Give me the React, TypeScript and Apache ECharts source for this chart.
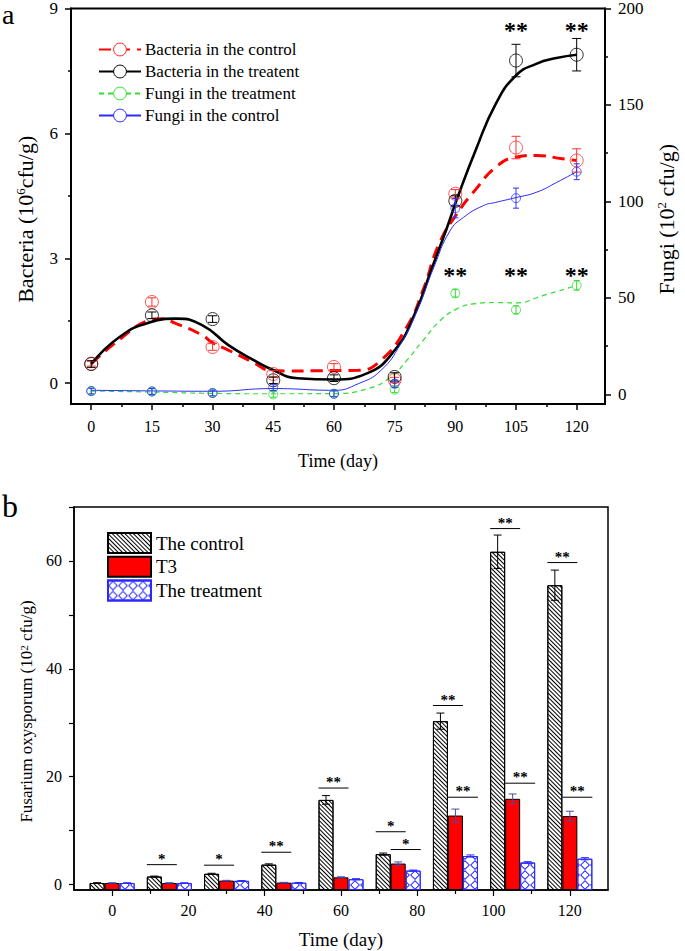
import React, { useEffect, useRef } from "react";
import * as echarts from "echarts";

const FONT = "Liberation Serif";

// ---------------- Panel a ----------------
const daysA = [0, 15, 30, 45, 60, 75, 90, 105, 120];
const bactControl = [0.47, 1.95, 0.87, 0.22, 0.39, 0.08, 4.55, 5.66, 5.35];
const bactControlErr = [0.06, 0.1, 0.08, 0.08, 0.08, 0.06, 0.1, 0.27, 0.28];
const bactTreat = [0.46, 1.63, 1.54, 0.07, 0.12, 0.15, 4.38, 7.75, 7.89];
const bactTreatErr = [0.08, 0.08, 0.08, 0.08, 0.08, 0.1, 0.12, 0.39, 0.39];
const fungiTreat = [1.7, 1.5, 0.7, 0, 0.3, 2.4, 52.4, 43.8, 56.5];
const fungiTreatErr = [1.5, 1.5, 1.5, 1.5, 1.5, 1.5, 2, 2, 2.5];
const fungiControl = [1.7, 1.5, 0.7, 3.5, 0.3, 5.5, 96.5, 101.7, 115.4];
const fungiControlErr = [1.5, 1.5, 1.5, 1.5, 1.5, 2, 5, 5.2, 4.1];

// fitted curves as [day, value]
const curveBactControl = [
  [0, 0.47], [7, 1.05], [14, 1.5], [17, 1.55], [21, 1.43], [27.5, 1.15], [30, 0.97],
  [34, 0.79], [40.6, 0.47], [44, 0.31], [49, 0.29], [56, 0.3], [66, 0.31], [71.6, 0.55],
  [78, 1.35], [82, 2.23], [86, 3.35], [90.4, 4.07], [95, 4.65], [100, 5.19], [105, 5.43],
  [110, 5.47], [116.5, 5.39], [120, 5.35],
];
const curveBactTreat = [
  [0, 0.46], [7, 1.11], [14.4, 1.46], [21, 1.55], [27.5, 1.39], [34, 0.91], [40.6, 0.53],
  [44, 0.36], [51, 0.12], [60, 0.09], [68, 0.23], [75, 0.79], [80, 1.67], [84, 2.71],
  [88, 3.75], [90.4, 4.42], [95, 5.59], [100, 6.71], [105, 7.39], [110, 7.67], [115, 7.81],
  [120, 7.89],
];
const curveFungiTreat = [
  [0, 1.7], [15, 1.2], [30, 0.5], [45, 0.3], [60, 0.4], [68.3, 2.9], [74, 8.9], [78, 17.6],
  [82, 27.9], [86.3, 38.3], [90.4, 44.3], [94.5, 46.9], [100, 47.6], [105, 47.4],
  [111.6, 51.2], [120, 56.4],
];
const curveFungiControl = [
  [0, 2.1], [15, 1.8], [30, 1.6], [45, 3.0], [60, 2.1], [66, 5.5], [71.6, 12.4], [76.5, 26.2],
  [80.6, 43.5], [84.7, 65.9], [88.7, 84.8], [92, 91.7], [96.9, 97.8], [100, 99.5], [105, 102],
  [110, 104.7], [115, 109.8], [120, 115.4],
];

const sigBact = [[105, 8.6], [120, 8.6]];
const sigFungi = [[90, 64.5], [105, 64.5], [120, 64.5]];

const xTicksA = [0, 15, 30, 45, 60, 75, 90, 105, 120];
const xMinorA = [7.5, 22.5, 37.5, 52.5, 67.5, 82.5, 97.5, 112.5];
const yTicksLeftA = [0, 3, 6, 9];
const yMinorLeftA = [1.5, 4.5, 7.5];
const yTicksRightA = [0, 50, 100, 150, 200];
const yMinorRightA = [25, 75, 125, 175];

// ---------------- Panel b ----------------
const daysB = [0, 15, 30, 45, 60, 75, 90, 105, 120];
const fusControl = [0.3, 1.5, 2.0, 3.7, 15.7, 5.65, 30.3, 61.7, 55.5];
const fusControlErr = [0.05, 0.08, 0.1, 0.15, 0.8, 0.2, 1.5, 3.1, 2.8];
const fusT3 = [0.3, 0.3, 0.74, 0.37, 1.35, 3.9, 12.8, 15.9, 12.7];
const fusT3Err = [0.03, 0.03, 0.05, 0.05, 0.1, 0.3, 1.2, 0.9, 0.9];
const fusTreat = [0.3, 0.3, 0.7, 0.35, 1.0, 2.6, 5.3, 4.1, 4.8];
const fusTreatErr = [0.03, 0.03, 0.05, 0.05, 0.1, 0.1, 0.2, 0.15, 0.2];

const sigDaysB = [15, 30, 45, 60, 75, 75, 90, 90, 105, 105, 120, 120];
const sigLevelsB = [3.7, 3.6, 6.0, 17.9, 9.8, 6.5, 33.2, 16.2, 66.0, 18.8, 59.7, 16.2];
const sigPairsB = ["ct", "ct", "ct", "ct", "ct", "tt", "ct", "tt", "ct", "tt", "ct", "tt"];
const sigLabelsB = ["*", "*", "**", "**", "*", "*", "**", "**", "**", "**", "**", "**"];

const xTicksB = [0, 20, 40, 60, 80, 100, 120];
const xMinorB = [10, 30, 50, 70, 90, 110];
const yTicksB = [0, 10, 20, 30, 40, 50, 60, 70];
const yLabelsB = [0, 20, 40, 60];

const BAR_W = 15;

function errSeries(
  days: number[], vals: number[], errs: number[], color: string,
  xAxisIndex: number, yAxisIndex: number, capHalf: number, offset = 0, lw = 1
) {
  return {
    type: "custom",
    xAxisIndex,
    yAxisIndex,
    z: 5,
    silent: true,
    itemStyle: { color },
    data: days.map((d, i) => [d, vals[i], errs[i]]),
    encode: { x: 0, y: 1 },
    renderItem: (_p: any, api: any) => {
      const x = api.value(0), v = api.value(1), e = api.value(2);
      const top = api.coord([x, v + e]);
      const bot = api.coord([x, v - e]);
      const cx = top[0] + offset;
      const st = { stroke: color, lineWidth: lw, fill: null };
      return {
        type: "group",
        children: [
          { type: "line", shape: { x1: cx, y1: top[1], x2: cx, y2: bot[1] }, style: st },
          { type: "line", shape: { x1: cx - capHalf, y1: top[1], x2: cx + capHalf, y2: top[1] }, style: st },
          { type: "line", shape: { x1: cx - capHalf, y1: bot[1], x2: cx + capHalf, y2: bot[1] }, style: st },
        ],
      };
    },
  };
}

function starSeries(points: number[][], xAxisIndex: number, yAxisIndex: number, size: number) {
  return {
    type: "custom",
    xAxisIndex,
    yAxisIndex,
    z: 6,
    silent: true,
    itemStyle: { color: "#000" },
    data: points,
    renderItem: (_p: any, api: any) => {
      const c = api.coord([api.value(0), api.value(1)]);
      return {
        type: "text",
        x: c[0],
        y: c[1] + 5,
        style: {
          text: "**", fontSize: size, fontWeight: "bold", fontFamily: FONT, fill: "#000",
          align: "center", verticalAlign: "middle",
        },
      };
    },
  };
}

function pointSeries(vals: number[], color: string, yAxisIndex: number, size: number) {
  return {
    type: "scatter",
    xAxisIndex: 0,
    yAxisIndex,
    z: 4,
    silent: true,
    symbol: "circle",
    symbolSize: size,
    data: daysA.map((d, i) => [d, vals[i]]),
    itemStyle: { color: "rgba(255,255,255,0)", borderColor: color, borderWidth: 1 },
  };
}

const axisLineStyle = { onZero: false, lineStyle: { color: "#000", width: 2 } };
const labelStyle = { color: "#000", fontFamily: FONT };
const nameRich = (big: number, small: number, shift: number) => ({
  ...labelStyle,
  padding: [0, shift, 0, 0],
  rich: {
    t: { fontSize: big, fontFamily: FONT, color: "#000" },
    s: { fontSize: small, fontFamily: FONT, color: "#000", verticalAlign: "top" },
  },
});

function buildOption() {
  const hatchDecal = {
    symbol: "rect",
    symbolSize: 1,
    color: "#000",
    dashArrayX: [1, 0],
    dashArrayY: [1, 2],
    rotation: Math.PI / 4,
  };
  const crossDecal = {
    symbol: "path://M5,0 L10,5 L5,10 L0,5 Z M5,1.4 L1.4,5 L5,8.6 L8.6,5 Z",
    symbolSize: 1,
    symbolKeepAspect: false,
    color: "#2a2aff",
    dashArrayX: [10, 0],
    dashArrayY: [10, 0],
  };

  return {
    animation: false,
    textStyle: { fontFamily: FONT },
    grid: [
      { left: 71, top: 8, width: 538, height: 396, show: true, borderColor: "#000", borderWidth: 2 },
      { left: 74, top: 507, width: 534, height: 383, show: true, borderColor: "#000", borderWidth: 1.5 },
    ],
    legend: [
      {
        data: [
          { name: "Bacteria in the control", itemStyle: { color: "#fff", borderColor: "#ff2020", borderWidth: 1 } },
          { name: "Bacteria in the treatent", itemStyle: { color: "#fff", borderColor: "#000", borderWidth: 1 } },
          { name: "Fungi in the treatment", itemStyle: { color: "#fff", borderColor: "#33dd33", borderWidth: 1 } },
          { name: "Fungi in the control", itemStyle: { color: "#fff", borderColor: "#2a2aff", borderWidth: 1 } },
        ],
        orient: "vertical",
        left: 93,
        top: 36,
        itemWidth: 42,
        itemHeight: 16,
        itemGap: 5,
        selectedMode: false,
        textStyle: { fontSize: 17, color: "#000", fontFamily: FONT, padding: [0, 0, 0, -1] },
      },
      {
        data: ["The control", "T3", "The treatment"],
        orient: "vertical",
        left: 102,
        top: 527,
        itemWidth: 43,
        itemHeight: 20,
        itemGap: 1.8,
        icon: "rect",
        selectedMode: false,
        textStyle: { fontSize: 19, color: "#000", fontFamily: FONT },
      },
    ],
    xAxis: [
      {
        type: "value", gridIndex: 0, min: -5, max: 127, position: "bottom",
        axisLine: axisLineStyle,
        axisTick: { customValues: xTicksA, length: 6, lineStyle: { color: "#000", width: 1.5 } },
        axisLabel: { customValues: xTicksA, fontSize: 16, margin: 14, ...labelStyle },
        splitLine: { show: false },
        name: "Time (day)", nameLocation: "middle", nameGap: 48,
        nameTextStyle: { fontSize: 18, ...labelStyle },
      },
      {
        type: "value", gridIndex: 0, min: -5, max: 127, position: "bottom",
        axisLine: { show: false, onZero: false },
        axisTick: { customValues: xMinorA, length: 3, lineStyle: { color: "#000", width: 1.5 } },
        axisLabel: { show: false },
        splitLine: { show: false },
      },
      {
        type: "value", gridIndex: 1, min: -10, max: 130, position: "bottom",
        axisLine: { onZero: false, lineStyle: { color: "#000", width: 1.5 } },
        axisTick: { customValues: xTicksB, length: 6, lineStyle: { color: "#000", width: 1.2 } },
        axisLabel: { customValues: xTicksB, fontSize: 16, margin: 12, ...labelStyle },
        splitLine: { show: false },
        name: "Time (day)", nameLocation: "middle", nameGap: 40,
        nameTextStyle: { fontSize: 19, ...labelStyle },
      },
      {
        type: "value", gridIndex: 1, min: -10, max: 130, position: "bottom",
        axisLine: { show: false, onZero: false },
        axisTick: { customValues: xMinorB, length: 4, lineStyle: { color: "#000", width: 1.2 } },
        axisLabel: { show: false },
        splitLine: { show: false },
      },
    ],
    yAxis: [
      {
        type: "value", gridIndex: 0, min: -0.5, max: 9, position: "left",
        axisLine: axisLineStyle,
        axisTick: { customValues: yTicksLeftA, length: 6, lineStyle: { color: "#000", width: 1.5 } },
        axisLabel: { customValues: yTicksLeftA, fontSize: 17, margin: 13, ...labelStyle },
        splitLine: { show: false },
        name: "{t|Bacteria (10}{s|6}{t|cfu/g)}", nameLocation: "middle", nameGap: 35,
        nameTextStyle: nameRich(22, 13, 26),
      },
      {
        type: "value", gridIndex: 0, min: -0.5, max: 9, position: "left",
        axisLine: { show: false, onZero: false },
        axisTick: { customValues: yMinorLeftA, length: 3, lineStyle: { color: "#000", width: 1.5 } },
        axisLabel: { show: false },
        splitLine: { show: false },
      },
      {
        type: "value", gridIndex: 0, min: -5, max: 200, position: "right",
        axisLine: axisLineStyle,
        axisTick: { customValues: yTicksRightA, length: 6, lineStyle: { color: "#000", width: 1.5 } },
        axisLabel: { customValues: yTicksRightA, fontSize: 17, margin: 13, ...labelStyle },
        splitLine: { show: false },
        name: "{t|Fungi (10}{s|2}{t| cfu/g)}", nameLocation: "middle", nameGap: 50,
        nameTextStyle: nameRich(22, 13, 26),
      },
      {
        type: "value", gridIndex: 0, min: -5, max: 200, position: "right",
        axisLine: { show: false, onZero: false },
        axisTick: { customValues: yMinorRightA, length: 3, lineStyle: { color: "#000", width: 1.5 } },
        axisLabel: { show: false },
        splitLine: { show: false },
      },
      {
        type: "value", gridIndex: 1, min: -1, max: 70, position: "left", startValue: -1,
        axisLine: { onZero: false, lineStyle: { color: "#000", width: 1.5 } },
        axisTick: { customValues: yTicksB, length: 5, lineStyle: { color: "#000", width: 1.2 } },
        axisLabel: { customValues: yLabelsB, fontSize: 16, margin: 12, ...labelStyle },
        splitLine: { show: false },
        name: "{t|Fusarium oxysporum (10}{s|2}{t| cfu/g)}", nameLocation: "middle", nameGap: 38,
        nameTextStyle: nameRich(17, 11, 26),
      },
    ],
    series: [
      // curves (legend entries)
      {
        name: "Bacteria in the control", type: "line", xAxisIndex: 0, yAxisIndex: 0, z: 3,
        data: curveBactControl, smooth: true, showSymbol: false, symbol: "circle", symbolSize: 13,
        itemStyle: { color: "#ff2020" },
        lineStyle: { color: "#ff0000", width: 3, type: [12, 7] },
      },
      {
        name: "Bacteria in the treatent", type: "line", xAxisIndex: 0, yAxisIndex: 0, z: 3,
        data: curveBactTreat, smooth: true, showSymbol: false, symbol: "circle", symbolSize: 13,
        itemStyle: { color: "#000" },
        lineStyle: { color: "#000", width: 2.6 },
      },
      {
        name: "Fungi in the treatment", type: "line", xAxisIndex: 0, yAxisIndex: 2, z: 3,
        data: curveFungiTreat, smooth: true, showSymbol: false, symbol: "circle", symbolSize: 9,
        itemStyle: { color: "#33dd33" },
        lineStyle: { color: "#33dd33", width: 1.2, type: [5, 4] },
      },
      {
        name: "Fungi in the control", type: "line", xAxisIndex: 0, yAxisIndex: 2, z: 3,
        data: curveFungiControl, smooth: true, showSymbol: false, symbol: "circle", symbolSize: 9,
        itemStyle: { color: "#2a2aff" },
        lineStyle: { color: "#2a2aff", width: 1 },
      },
      // measured points
      pointSeries(bactControl, "#ff3030", 0, 13),
      pointSeries(bactTreat, "#000", 0, 13),
      pointSeries(fungiTreat, "#33dd33", 2, 9),
      pointSeries(fungiControl, "#3333ff", 2, 9),
      errSeries(daysA, bactControl, bactControlErr, "#ff3030", 0, 0, 4.5),
      errSeries(daysA, bactTreat, bactTreatErr, "#000", 0, 0, 4.5),
      errSeries(daysA, fungiTreat, fungiTreatErr, "#33dd33", 0, 2, 3),
      errSeries(daysA, fungiControl, fungiControlErr, "#3333ff", 0, 2, 3),
      starSeries(sigBact, 0, 0, 24),
      starSeries(sigFungi, 0, 2, 24),
      // panel b bars
      {
        name: "The control", type: "bar", xAxisIndex: 2, yAxisIndex: 4,
        data: daysB.map((d, i) => [d, fusControl[i]]),
        barWidth: BAR_W, barGap: "0%",
        itemStyle: { color: "#fff", borderColor: "#000", borderWidth: 1, decal: hatchDecal },
      },
      {
        name: "T3", type: "bar", xAxisIndex: 2, yAxisIndex: 4,
        data: daysB.map((d, i) => [d, fusT3[i]]),
        barWidth: BAR_W, barGap: "0%",
        itemStyle: { color: "#ff0000", borderColor: "#000", borderWidth: 1 },
      },
      {
        name: "The treatment", type: "bar", xAxisIndex: 2, yAxisIndex: 4,
        data: daysB.map((d, i) => [d, fusTreat[i]]),
        barWidth: BAR_W, barGap: "0%",
        itemStyle: { color: "#fff", borderColor: "#2a2aff", borderWidth: 1, decal: crossDecal },
      },
      errSeries(daysB, fusControl, fusControlErr, "#000", 2, 4, 4, -BAR_W),
      errSeries(daysB, fusT3, fusT3Err, "#4a4ab0", 2, 4, 4, 0),
      errSeries(daysB, fusTreat, fusTreatErr, "#2a2aff", 2, 4, 4, BAR_W),
      {
        type: "custom",
        xAxisIndex: 2,
        yAxisIndex: 4,
        z: 6,
        silent: true,
        itemStyle: { color: "#000" },
        data: sigDaysB.map((d, i) => [d, sigLevelsB[i]]),
        renderItem: (params: any, api: any) => {
          const i = params.dataIndex;
          const p = api.coord([api.value(0), api.value(1)]);
          const x0 = sigPairsB[i] === "ct" ? p[0] - BAR_W - 7.5 : p[0] - 7.5;
          const x1 = x0 + 2 * BAR_W;
          return {
            type: "group",
            children: [
              { type: "line", shape: { x1: x0, y1: p[1], x2: x1, y2: p[1] }, style: { stroke: "#000", lineWidth: 1 } },
              {
                type: "text", x: (x0 + x1) / 2, y: p[1] - 6,
                style: {
                  text: sigLabelsB[i], fontSize: 15, fontWeight: "bold", fontFamily: FONT, fill: "#000",
                  align: "center", verticalAlign: "middle",
                },
              },
            ],
          };
        },
      },
    ],
    graphic: [
      { type: "text", left: 2, top: 0, style: { text: "a", fontSize: 28, fontFamily: FONT, fill: "#000" } },
      { type: "text", left: 2, top: 490, style: { text: "b", fontSize: 32, fontFamily: FONT, fill: "#000" } },
    ],
  };
}

export default function App() {
  const ref = useRef<HTMLDivElement>(null);
  useEffect(() => {
    if (!ref.current) return;
    const chart = echarts.init(ref.current, undefined, { renderer: "svg" });
    chart.setOption(buildOption() as any);
    return () => chart.dispose();
  }, []);
  return (
    <div
      ref={ref}
      style={{ position: "absolute", left: 0, top: 0, width: 685, height: 951, background: "#fff" }}
    />
  );
}
